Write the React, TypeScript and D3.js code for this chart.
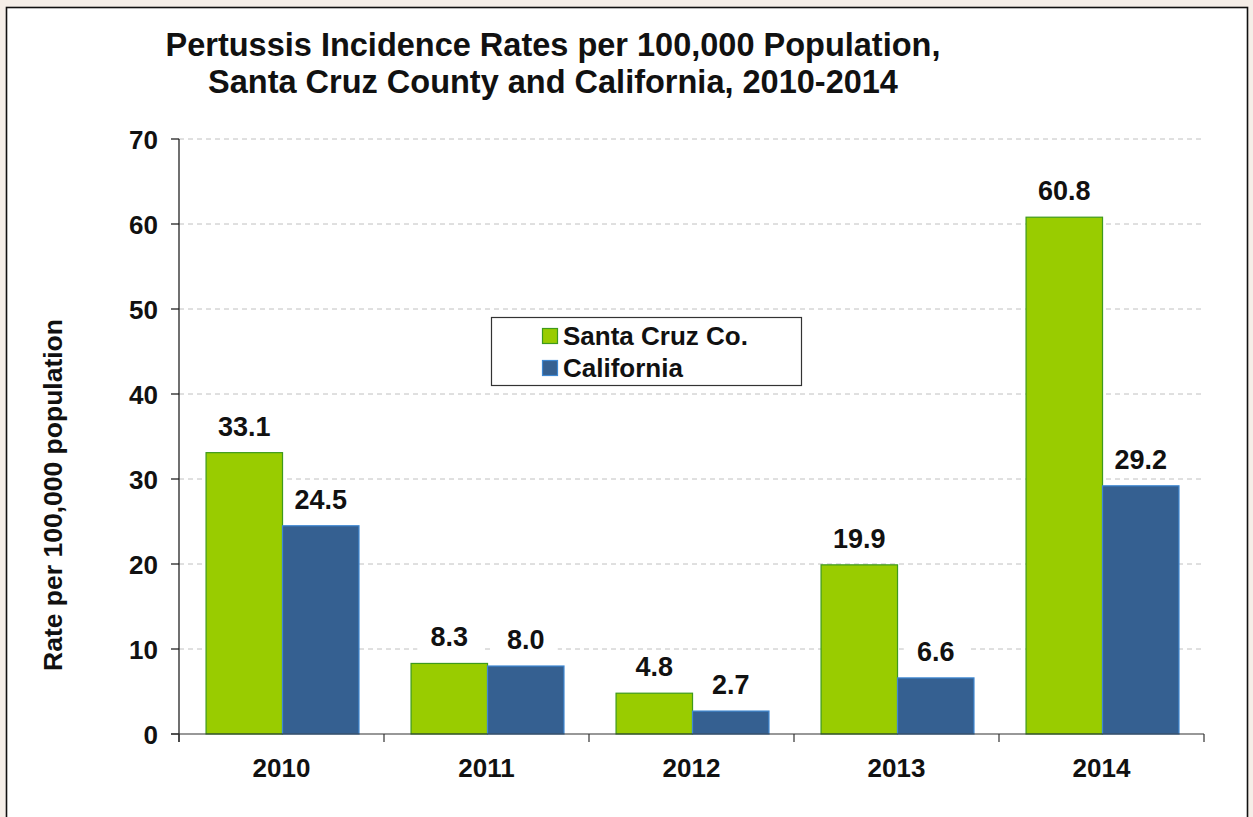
import React from "react";
import * as d3 from "d3";

const years = ["2010", "2011", "2012", "2013", "2014"];
const seriesNames = ["Santa Cruz Co.", "California"];
const santaCruz = [33.1, 8.3, 4.8, 19.9, 60.8];
const california = [24.5, 8.0, 2.7, 6.6, 29.2];
const yTicks = [0, 10, 20, 30, 40, 50, 60, 70];
const titleLines = [
  "Pertussis Incidence Rates per 100,000 Population,",
  "Santa Cruz County and California, 2010-2014",
];
const yLabel = "Rate per 100,000 population";

const fills = ["#99CC00", "#356091"];
const strokes = ["#3E9A1C", "#3F88D2"];
const FONT = "Arial, 'Liberation Sans', sans-serif";

export default function App() {
  const W = 1253, H = 817;
  const left = 179, right = 1204, top = 139, bottom = 734;
  const y = d3.scaleLinear().domain([0, 70]).range([bottom, top]);
  const x0 = d3.scaleBand().domain(years).range([left, right]).padding(0);
  const bw = x0.bandwidth();
  const x1 = d3.scaleBand().domain(seriesNames).range([bw * 0.132, bw * 0.878]).padding(0);
  const data = [santaCruz, california];

  return (
    <svg width={W} height={H} style={{ position: "absolute", left: 0, top: 0 }} fontFamily={FONT}>
      <rect x={0} y={0} width={W} height={H} fill="#F5EEE8" />
      <rect x={6.5} y={7.5} width={1241} height={830} fill="#ffffff" stroke="#111" strokeWidth={1.6} />
      {titleLines.map((t, i) => (
        <text key={i} x={553} y={56 + i * 37} textAnchor="middle" fontSize={32.5} fontWeight="bold" fill="#111">
          {t}
        </text>
      ))}
      {yTicks.filter((t) => t > 0).map((t) => (
        <line key={"g" + t} x1={left} x2={right} y1={y(t)} y2={y(t)} stroke="#C0C0C0" strokeWidth={1} strokeDasharray="5,4" />
      ))}
      {years.map((yr, i) =>
        data.map((vals, s) => {
          const bx = (x0(yr) as number) + (x1(seriesNames[s]) as number);
          return (
            <rect key={yr + s} x={bx} y={y(vals[i])} width={x1.bandwidth()} height={bottom - y(vals[i])}
              fill={fills[s]} stroke={strokes[s]} strokeWidth={1.2} />
          );
        })
      )}
      {years.map((yr, i) =>
        data.map((vals, s) => {
          const cx = (x0(yr) as number) + (x1(seriesNames[s]) as number) + x1.bandwidth() / 2;
          const by = y(vals[i]) - 17;
          return (
            <g key={"l" + yr + s}>
              <rect x={cx - 32} y={by - 22} width={64} height={26} fill="#fff" />
              <text x={cx} y={by} textAnchor="middle" fontSize={27} fontWeight="bold" fill="#111">
                {vals[i].toFixed(1)}
              </text>
            </g>
          );
        })
      )}
      {/* y axis */}
      <line x1={left} x2={left} y1={top} y2={bottom + 8} stroke="#111" strokeWidth={1.2} />
      {yTicks.map((t) => (
        <g key={"t" + t}>
          <line x1={left - 8} x2={left} y1={y(t)} y2={y(t)} stroke="#111" strokeWidth={1.2} />
          <text x={158} y={y(t) + 9.5} textAnchor="end" fontSize={26} fontWeight="bold" fill="#111">
            {t}
          </text>
        </g>
      ))}
      {/* x axis */}
      <line x1={left - 8} x2={right} y1={bottom} y2={bottom} stroke="#333" strokeWidth={1.2} />
      {years.concat(["end"]).map((yr, i) => {
        const xx = i < years.length ? (x0(yr) as number) : right;
        return <line key={"xt" + i} x1={xx} x2={xx} y1={bottom} y2={bottom + 8} stroke="#333" strokeWidth={1.2} />;
      })}
      {years.map((yr) => (
        <text key={"xl" + yr} x={(x0(yr) as number) + bw / 2} y={777} textAnchor="middle" fontSize={26} fontWeight="bold" fill="#111">
          {yr}
        </text>
      ))}
      <text transform={`translate(62,495) rotate(-90)`} textAnchor="middle" fontSize={26.5} fontWeight="bold" fill="#111">
        {yLabel}
      </text>
      {/* legend */}
      <rect x={491.5} y={317.5} width={310} height={68} fill="#fff" stroke="#333" strokeWidth={1.2} />
      {seriesNames.map((n, s) => (
        <g key={"lg" + n}>
          <rect x={542.5} y={328.5 + s * 32} width={15} height={15} fill={fills[s]} stroke={strokes[s]} strokeWidth={1.2} />
          <text x={563} y={345 + s * 31.5} fontSize={26} fontWeight="bold" fill="#111">
            {n}
          </text>
        </g>
      ))}
    </svg>
  );
}
